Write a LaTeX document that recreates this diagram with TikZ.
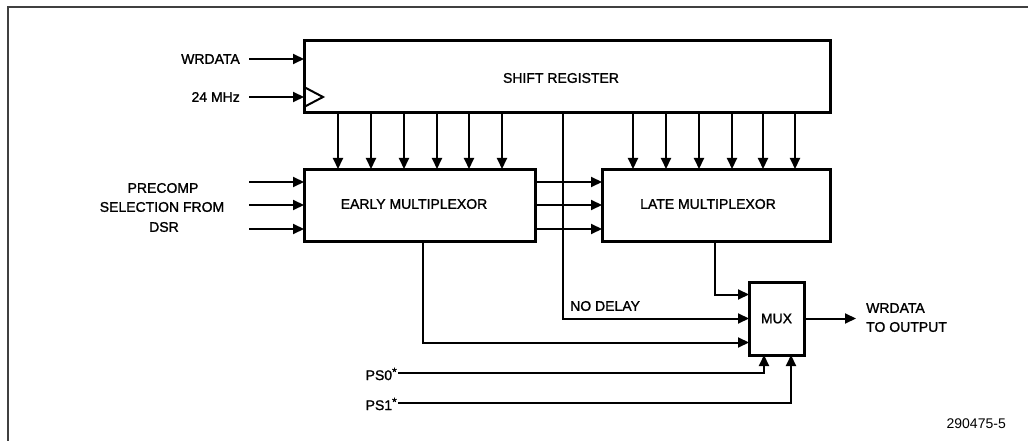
\documentclass[tikz,border=0pt]{standalone}
\usepackage{fontspec}
\setmainfont[FakeBold=1.3]{Liberation Sans}
\newfontfamily\plainfont{Liberation Sans}
\usetikzlibrary{arrows.meta}
\begin{document}
\begin{tikzpicture}[x=1pt,y=-1pt,
  box/.style={draw, line width=3pt, line join=miter, inner sep=0pt, outer sep=0pt, font=\fontsize{14}{16}\selectfont},
  sig/.style={line width=2pt, line join=miter, -{Triangle[length=11pt,width=10pt]}},
  wire/.style={line width=2pt, line join=miter},
  lbl/.style={font=\fontsize{14}{16}\selectfont, inner sep=0pt},
  frame/.style={line width=1.5pt, draw=black!75}]
\useasboundingbox (0,0) rectangle (1028,441);
% frame
\draw[frame] (8,441) -- (8,7) -- (1028,7);
% boxes
\node[box, minimum width=526pt, minimum height=72pt] (sr) at (567,77) {};
\node[lbl] (srt) at (561,78) {SHIFT REGISTER};
\node[box, minimum width=231pt, minimum height=72pt] (em) at (419.5,205) {};
\node[lbl] (emt) at (414,204) {EARLY MULTIPLEXOR};
\node[box, minimum width=228pt, minimum height=72pt] (lm) at (716,205) {};
\node[lbl] (lmt) at (708,204) {LATE MULTIPLEXOR};
\node[box, minimum width=55pt, minimum height=73pt] (mux) at (776.5,318.5) {MUX};
% clock triangle
\draw[wire] (304,87) -- (323,97) -- (304,107);
% inputs to shift register
\coordinate (wrin) at (249,59);
\coordinate (clkin) at (249,97);
\draw[sig] (wrin) -- (wrin -| sr.west);
\draw[sig] (clkin) -- (clkin -| sr.west);
\node[lbl, anchor=east] (wrl) at (240,59) {WRDATA};
\node[lbl, anchor=east] (clkl) at (240,97) {24 MHz};
% shift register to multiplexors
\foreach \x in {338,371,404,437,469,502}
  \draw[sig] (sr.south -| \x,0) -- (em.north -| \x,0);
\foreach \x in {633,666,699,732,763,795}
  \draw[sig] (sr.south -| \x,0) -- (lm.north -| \x,0);
% precomp selection inputs and early -> late
\foreach \y/\n in {182/a,205/b,229/c} {
  \coordinate (in\n) at (249,\y);
  \draw[sig] (in\n) -- (in\n -| em.west);
  \draw[sig] (em.east |- 0,\y) -- (lm.west |- 0,\y);
}
\node[lbl] (pc1) at (163,188) {PRECOMP};
\node[lbl] (pc2) at (162,207) {SELECTION FROM};
\node[lbl] (pc3) at (164,227) {DSR};
% no delay
\draw[sig] (sr.south -| 563,0) |- (mux.west);
\node[lbl, anchor=west] (ndl) at (570,306) {NO DELAY};
% early and late outputs
\draw[sig] (em.south -| 423,0) |- ([yshift=-24pt]mux.west);
\draw[sig] (lm.south -| 715,0) |- ([yshift=24pt]mux.west);
% PS0 PS1
\coordinate (ps0) at (398,373);
\coordinate (ps1) at (398,403);
\draw[sig] (ps0) -| (mux.south -| 764,0);
\draw[sig] (ps1) -| (mux.south -| 791,0);
\node[lbl, anchor=east] (ps0l) at (397,374) {PS0\raisebox{4pt}{\fontsize{12}{12}\selectfont *}};
\node[lbl, anchor=east] (ps1l) at (397,404) {PS1\raisebox{4pt}{\fontsize{12}{12}\selectfont *}};
% output
\coordinate (outend) at (856,318.5);
\draw[sig] (mux.east) -- (outend);
\node[lbl, anchor=west] (o1) at (866,308) {WRDATA};
\node[lbl, anchor=west] (o2) at (866,327) {TO OUTPUT};
% figure number
\node[lbl, anchor=east, font=\plainfont\fontsize{14}{16}\selectfont] (fig) at (1006,424) {290475-5};
\end{tikzpicture}
\end{document}
